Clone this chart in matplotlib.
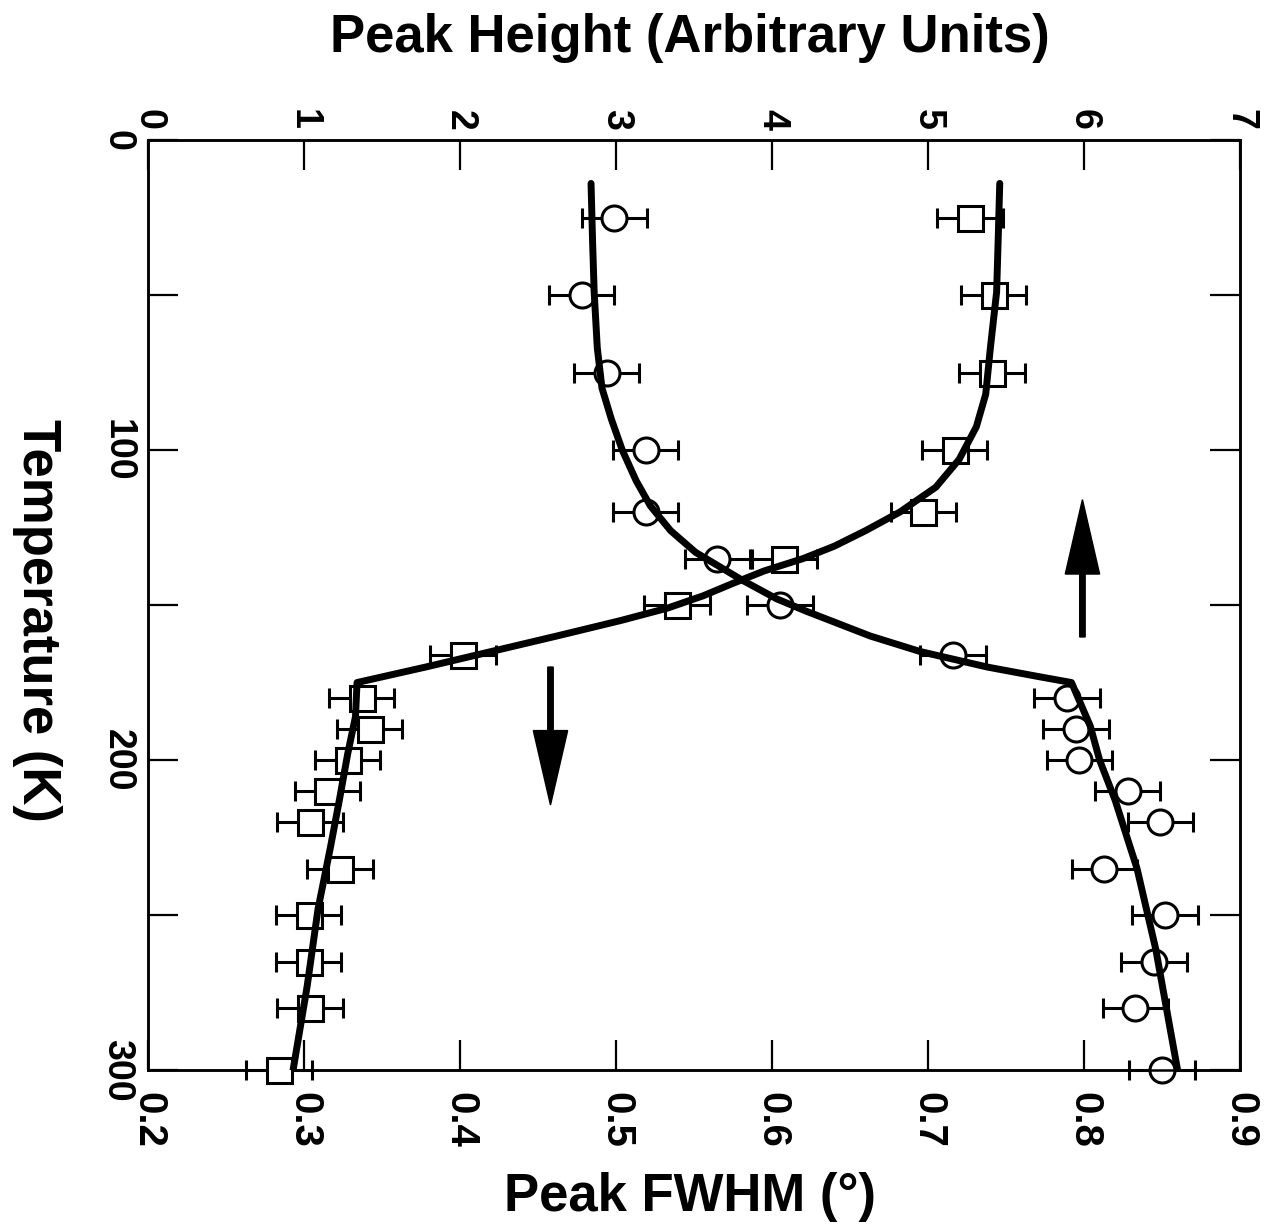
import matplotlib
matplotlib.use('Agg')
import matplotlib.pyplot as plt

plt.rcParams['font.family'] = ['Liberation Sans', 'DejaVu Sans']
plt.rcParams['font.weight'] = 'bold'

# measurement temperatures (K)
temperature = [25, 50, 75, 100, 120, 135, 150, 166, 180, 190, 200, 210, 220, 235, 250, 265, 280, 300]

# peak FWHM in degrees (open circles, bottom axis)
fwhm = [0.499, 0.478, 0.494, 0.519, 0.519, 0.565, 0.605, 0.716, 0.789, 0.795,
        0.797, 0.828, 0.849, 0.813, 0.852, 0.845, 0.833, 0.850]
fwhm_err = 0.021

# peak height, arbitrary units (open squares, top axis)
height = [5.27, 5.42, 5.41, 5.17, 4.97, 4.08, 3.39, 2.02, 1.37, 1.42,
          1.28, 1.15, 1.04, 1.23, 1.03, 1.03, 1.04, 0.84]
height_err = 0.21

# hand-drawn guide curves
fwhm_curve_t = [14, 33, 49, 67, 80, 90, 100, 110, 118, 126, 133, 142, 148, 152,
                160, 165, 170, 173, 175, 189, 200, 213, 235, 261, 300]
fwhm_curve = [0.484, 0.485, 0.486, 0.488, 0.491, 0.497, 0.504, 0.513, 0.522, 0.535,
              0.551, 0.581, 0.603, 0.622, 0.663, 0.695, 0.738, 0.770, 0.792, 0.804,
              0.810, 0.820, 0.834, 0.846, 0.860]
height_curve_t = [14, 32, 49, 67, 82, 92.5, 103, 112, 120, 126, 131, 135, 139, 143,
                  147, 151, 155, 160, 165, 170, 175, 186, 198, 212, 228, 248, 273, 300]
height_curve = [5.46, 5.45, 5.44, 5.40, 5.37, 5.31, 5.20, 5.05, 4.82, 4.60, 4.40, 4.20,
                3.95, 3.75, 3.56, 3.33, 3.03, 2.62, 2.20, 1.78, 1.34, 1.33, 1.28, 1.23,
                1.17, 1.09, 1.02, 0.93]

# arrows: x position (peak height units), start T, end T
arrow_down = (2.58, 170, 214.5)
arrow_up = (5.99, 160.3, 116)

fwhm_ticks = [0.2, 0.3, 0.4, 0.5, 0.6, 0.7, 0.8, 0.9]
height_ticks = [0, 1, 2, 3, 4, 5, 6, 7]
temp_ticks = [0, 100, 200, 300]
temp_minor = [50, 150, 250]

fig = plt.figure(figsize=(12.64, 12.26), dpi=100)
ax = fig.add_axes([0.1171, 0.1272, 0.8639, 0.7586])
ax2 = ax.twiny()

ax.set_xlim(0.2, 0.9)
ax.set_ylim(300, 0)
ax2.set_xlim(0, 7)

ax.set_xticks(fwhm_ticks)
ax.set_xticklabels(['%.1f' % v for v in fwhm_ticks])
ax.set_yticks(temp_ticks)
ax.set_yticks(temp_minor, minor=True)
ax2.set_xticks(height_ticks)

tl = 21.6
ax.tick_params(axis='both', which='both', direction='in', length=tl, width=1.6, labelsize=27)
ax.tick_params(axis='y', which='both', left=True, right=True, labelright=False,
               labelrotation=-90, pad=9)
ax.tick_params(axis='x', labelrotation=-90, pad=16, labelsize=29)
ax2.tick_params(axis='x', direction='in', length=tl, width=1.6, labelsize=27,
                labelrotation=-90, pad=7)
for lbl in ax.get_yticklabels():
    lbl.set_va('center')

for a in (ax, ax2):
    for sp in a.spines.values():
        sp.set_linewidth(1.8)


def unclip(container):
    # let the end points hang over the frame
    data_line, caps, bars = container.lines
    for art in [data_line, *caps, *bars]:
        if art is not None:
            art.set_clip_on(False)


eb = ax.errorbar(fwhm, temperature, xerr=fwhm_err, fmt='o', ms=18, mfc='white', mec='black',
                 mew=2.2, ecolor='black', elinewidth=2.2, capsize=7, capthick=2.2, zorder=3)
unclip(eb)
ax.plot(fwhm_curve, fwhm_curve_t, color='black', lw=5, solid_capstyle='round', zorder=4)

eb = ax2.errorbar(height, temperature, xerr=height_err, fmt='s', ms=18, mfc='white', mec='black',
                  mew=2.2, ecolor='black', elinewidth=2.2, capsize=7, capthick=2.2, zorder=3)
unclip(eb)
ax2.plot(height_curve, height_curve_t, color='black', lw=5, solid_capstyle='round', zorder=4)

for x, t0, t1 in (arrow_down, arrow_up):
    ax2.arrow(x, t0, 0, t1 - t0, width=0.035, head_width=0.22, head_length=24,
              length_includes_head=True, color='black', zorder=5)

fig.text(0.546, 0.969, 'Peak Height (Arbitrary Units)', ha='center', va='center',
         fontsize=38, fontweight='bold')
fig.text(0.546, 0.0236, 'Peak FWHM (°)', ha='center', va='center',
         fontsize=38, fontweight='bold')
fig.text(0.029, 0.494, 'Temperature (K)', ha='center', va='center', rotation=-90,
         fontsize=38, fontweight='bold')

fig.savefig('out.png', dpi=100, facecolor='white')
